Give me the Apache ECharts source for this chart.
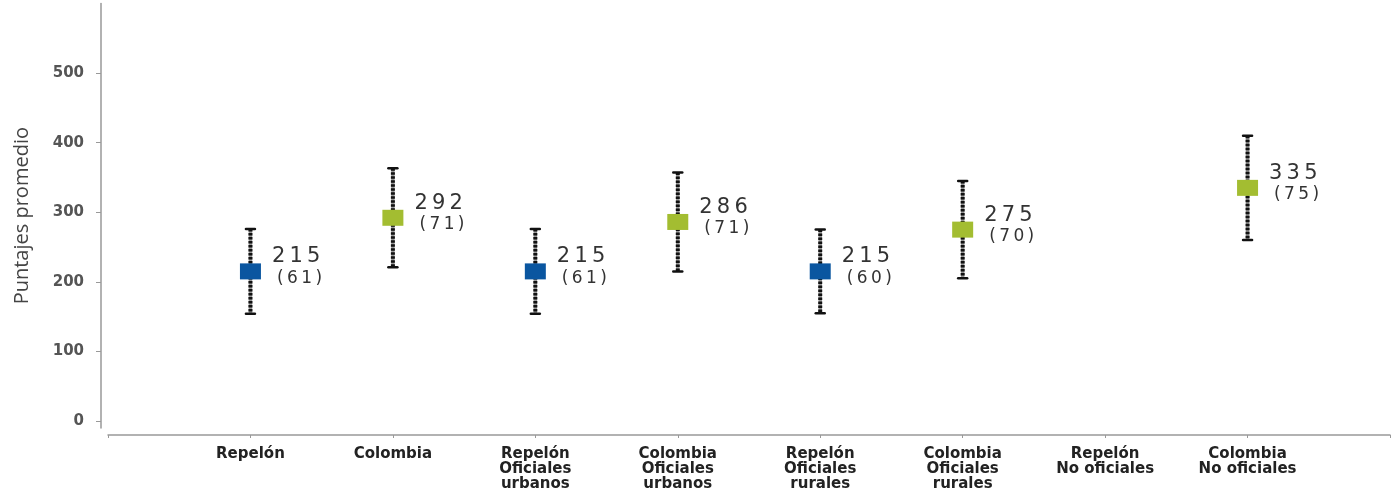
<!DOCTYPE html>
<html>
<head>
<meta charset="utf-8">
<script src="https://cdn.jsdelivr.net/npm/echarts@6/dist/echarts.min.js"></script>
<style>
html,body{margin:0;padding:0;background:#fff;}
#chart{width:1395px;height:493px;}
</style>
</head>
<body>
<div id="chart"></div>
<script>
// ---- data ----
var categories = ['Repelón', 'Colombia', 'Repelón\nOficiales\nurbanos', 'Colombia\nOficiales\nurbanos',
  'Repelón\nOficiales\nrurales', 'Colombia\nOficiales\nrurales', 'Repelón\nNo oficiales', 'Colombia\nNo oficiales'];
var entity = ['Repelón', 'Colombia', 'Repelón', 'Colombia', 'Repelón', 'Colombia', 'Repelón', 'Colombia'];
var means = [215, 292, 215, 286, 215, 275, null, 335];
var sds = [61, 71, 61, 71, 60, 70, null, 75];
var yTicks = [0, 100, 200, 300, 400, 500];
var yAxisTitle = 'Puntajes promedio';

var colors = { 'Repelón': '#0a56a0', 'Colombia': '#a3bd31' };

var axisData = [''].concat(categories).concat(['']);

function spaced(s) { return String(s).split('').join('\u2009'); }

function pointsFor(name) {
  var out = [];
  for (var i = 0; i < categories.length; i++) {
    if (entity[i] === name && means[i] != null) out.push([categories[i], means[i], sds[i]]);
  }
  return out;
}
var errData = [];
for (var i = 0; i < categories.length; i++) {
  if (means[i] != null) errData.push([categories[i], means[i] - sds[i], means[i] + sds[i]]);
}

function scatterSeries(name) {
  return {
    name: name, type: 'scatter', data: pointsFor(name), z: 5,
    symbol: 'rect', symbolSize: [21, 16],
    itemStyle: { color: colors[name], opacity: 1 },
    label: {
      show: true, position: 'right', distance: 11, offset: [0, -4],
      formatter: function (p) {
        return '{a|' + spaced(p.value[1]) + '}\n{b|' + spaced('(' + p.value[2] + ')') + '}';
      },
      rich: {
        a: { fontFamily: 'DejaVu Sans', fontSize: 21, lineHeight: 22, color: '#333' },
        b: { fontFamily: 'DejaVu Sans', fontSize: 17, lineHeight: 21, color: '#333', padding: [0, 0, 0, 5] }
      }
    },
    emphasis: { disabled: true }
  };
}

var chart = echarts.init(document.getElementById('chart'));
chart.setOption({
  animation: false,
  backgroundColor: '#fff',
  grid: { left: 108, right: 5, top: 3.4, bottom: 65, outerBoundsMode: 'none', containLabel: false },
  xAxis: {
    type: 'category', data: axisData, boundaryGap: false, offset: 7,
    axisLine: { onZero: false, lineStyle: { color: '#999', width: 1.5 } },
    axisTick: { show: true, length: 3, lineStyle: { color: '#999' } },
    axisLabel: {
      interval: 0, margin: 12, color: '#222', fontFamily: 'DejaVu Sans', fontWeight: 'bold',
      fontSize: 15, lineHeight: 15, align: 'center'
    },
    splitLine: { show: false }
  },
  yAxis: {
    type: 'value', min: -10, max: 600, offset: 7,
    name: yAxisTitle, nameLocation: 'middle', nameGap: 69,
    nameTextStyle: { fontFamily: 'Open Sans', fontSize: 20, color: '#444' },
    axisLine: { show: true, onZero: false, lineStyle: { color: '#999', width: 1.5 } },
    axisTick: { show: true, length: 5, customValues: yTicks, lineStyle: { color: '#999' } },
    axisLabel: { customValues: yTicks, margin: 17, color: '#555', fontFamily: 'DejaVu Sans', fontWeight: 'bold', fontSize: 15 },
    splitLine: { show: false }
  },
  series: [
    {
      type: 'custom', data: errData, z: 3,
      renderItem: function (params, api) {
        var top = api.coord([api.value(0), api.value(2)]);
        var bot = api.coord([api.value(0), api.value(1)]);
        var x = top[0];
        return {
          type: 'group',
          children: [
            { type: 'line', shape: { x1: x, y1: top[1], x2: x, y2: bot[1] }, style: { stroke: '#999', lineWidth: 3.5 } },
            { type: 'line', shape: { x1: x, y1: top[1], x2: x, y2: bot[1] }, style: { stroke: '#111', lineWidth: 4, lineDash: [2.5, 1.5] } },
            { type: 'line', shape: { x1: x - 4.5, y1: top[1], x2: x + 4.5, y2: top[1] }, style: { stroke: '#111', lineWidth: 2.5, lineCap: 'round' } },
            { type: 'line', shape: { x1: x - 4.5, y1: bot[1], x2: x + 4.5, y2: bot[1] }, style: { stroke: '#111', lineWidth: 2.5, lineCap: 'round' } }
          ]
        };
      }
    },
    scatterSeries('Repelón'),
    scatterSeries('Colombia')
  ]
});
</script>
</body>
</html>
